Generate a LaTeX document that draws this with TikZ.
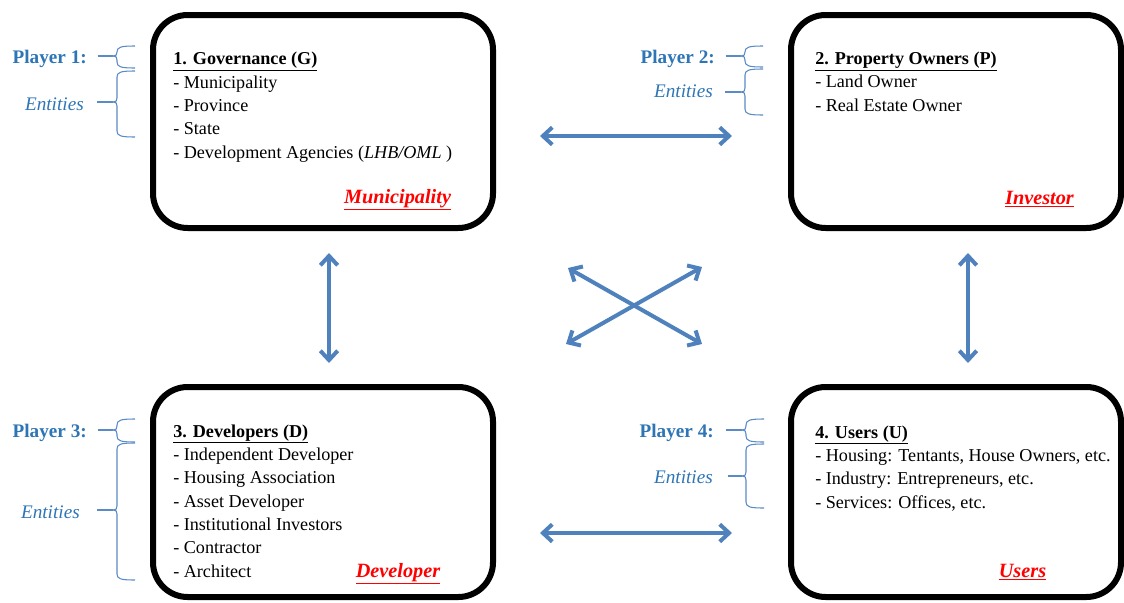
\documentclass[tikz,border=0pt]{standalone}
\usepackage{fontspec}
\setmainfont{Liberation Serif}
\usetikzlibrary{arrows.meta,calc}

\definecolor{playerblue}{HTML}{2E75B6}
\definecolor{bracecol}{HTML}{5B8BC6}
\definecolor{linkblue}{HTML}{4F81BD}

\begin{document}
\begin{tikzpicture}[
    x=0.75pt, y=-0.75pt,
    node font=\fontsize{13.6}{17.5}\selectfont,
    player box/.style={draw=black, line width=4.5pt, rounded corners=26pt, inner sep=0pt},
    box text/.style={anchor=base west, inner sep=0pt, align=left},
    role label/.style={anchor=base, inner sep=0pt, text=red, font=\fontsize{15.2}{17.5}\selectfont\bfseries\itshape},
    player label/.style={anchor=base east, inner sep=0pt, text=playerblue, font=\fontsize{14.4}{17.5}\selectfont\bfseries},
    entity label/.style={anchor=base east, inner sep=0pt, text=playerblue, font=\fontsize{14.4}{17.5}\selectfont\itshape},
    brace line/.style={draw=bracecol, line width=0.8pt},
    link/.style={{Straight Barb[length=7pt,width=13pt]}-{Straight Barb[length=7pt,width=13pt]}, draw=linkblue, line width=3pt},
]

\useasboundingbox (0,0) rectangle (1124,603);

% The four player boxes
\node[player box, minimum width=255pt, minimum height=159.75pt] (gov) at (323,121.5) {};
\node[player box, minimum width=247.5pt, minimum height=159.75pt] (own) at (956,121.5) {};
\node[player box, minimum width=255pt, minimum height=157.5pt] (dev) at (323,492) {};
\node[player box, minimum width=247.5pt, minimum height=157.5pt] (usr) at (956,492) {};

% Box contents (anchored at the baseline of the last line)
\node[box text] (govtext) at (173,158) {\underline{\textbf{1. Governance (G)}}\\
    - Municipality\\
    - Province\\
    - State\\
    - Development Agencies (\textit{LHB/OML} )};
\node[box text] (owntext) at (815,111) {\underline{\textbf{2. Property Owners (P)}}\\
    - Land Owner\\
    - Real Estate Owner};
\node[box text] (devtext) at (173,577) {\underline{\textbf{3. Developers (D)}}\\
    - Independent Developer\\
    - Housing Association\\
    - Asset Developer\\
    - Institutional Investors\\
    - Contractor\\
    - Architect};
\node[box text] (usrtext) at (815,508) {\underline{\textbf{4. Users (U)}}\\
    - Housing: Tentants, House Owners, etc.\\
    - Industry: Entrepreneurs, etc.\\
    - Services: Offices, etc.};

% Roles
\node[role label] (govrole) at (397.5,203) {\underline{Municipality}};
\node[role label] (ownrole) at (1039.5,204) {\underline{Investor}};
\node[role label] (devrole) at (398,577) {\underline{Developer}};
\node[role label] (usrrole) at (1022.5,577) {\underline{Users}};

% Player and entity labels
\node[player label] (pl1) at (87,63) {Player 1:};
\node[entity label] (en1) at (84,110) {Entities};
\node[player label] (pl2) at (715,63) {Player 2:};
\node[entity label] (en2) at (713,97) {Entities};
\node[player label] (pl3) at (87,437) {Player 3:};
\node[entity label] (en3) at (80,518) {Entities};
\node[player label] (pl4) at (714,437) {Player 4:};
\node[entity label] (en4) at (713,483) {Entities};

% Braces (spine x / top / tip / bottom)
\foreach \xs/\yt/\ym/\yb [count=\i] in {117/46/56/68, 117/71/102/137, 745/46/56/67, 745/69/92/115,
                                         117/419/430/442, 117/443/510/580, 746/419/430/442, 746/444/476/508} {
    \draw[brace line] (\xs+18,\yt) .. controls (\xs+4,\yt) and (\xs,\yt+1) .. (\xs,\yt+6)
        -- (\xs,\ym-4) .. controls (\xs,\ym-1) and (\xs-1,\ym) .. (\xs-4,\ym)
        .. controls (\xs-1,\ym) and (\xs,\ym+1) .. (\xs,\ym+4)
        -- (\xs,\yb-6) .. controls (\xs,\yb-1) and (\xs+4,\yb) .. (\xs+18,\yb);
    \coordinate (tip\i) at (\xs-4,\ym);
}

% Label ticks
\draw[brace line] ([xshift=8pt]pl1.east |- tip1) -- (tip1);
\draw[brace line] ([xshift=10pt]en1.east |- tip2) -- (tip2);
\draw[brace line] ([xshift=8pt]pl2.east |- tip3) -- (tip3);
\draw[brace line] ([xshift=9pt]en2.east |- tip4) -- (tip4);
\draw[brace line] ([xshift=8pt]pl3.east |- tip5) -- (tip5);
\draw[brace line] ([xshift=13pt]en3.east |- tip6) -- (tip6);
\draw[brace line] ([xshift=9pt]pl4.east |- tip7) -- (tip7);
\draw[brace line] ([xshift=11pt]en4.east |- tip8) -- (tip8);

% Links between players
\draw[link] ([shift={(44,14.5)}]gov.east) -- ([shift={(-56,14.5)}]own.west);
\draw[link] ([shift={(44,41)}]dev.east) -- ([shift={(-56,41)}]usr.west);
\draw[link] ([shift={(6,22)}]gov.south) -- ([shift={(6,-21)}]dev.north);
\draw[link] ([shift={(12,22)}]own.south) -- ([shift={(12,-21)}]usr.north);
\draw[link] ([shift={(72,37)}]gov.south east) -- ([shift={(-86,-40)}]usr.north west);
\draw[link] ([shift={(-86,36)}]own.south west) -- ([shift={(70,-40)}]dev.north east);

\end{tikzpicture}
\end{document}
